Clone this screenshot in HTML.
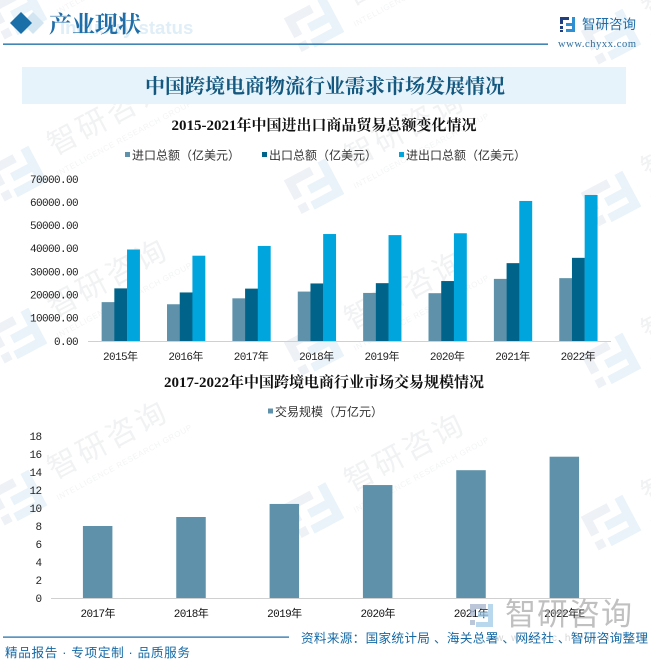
<!DOCTYPE html>
<html lang="zh">
<head>
<meta charset="utf-8">
<title>中国跨境电商物流行业需求市场发展情况</title>
<style>
html,body{margin:0;padding:0;background:#fff;}
body{width:651px;height:662px;overflow:hidden;position:relative;}
svg{display:block;position:absolute;left:0;top:0;overflow:hidden;}
.serif{font-family:"Liberation Serif","Noto Serif CJK SC",serif;}
.sans{font-family:"Liberation Sans","Noto Sans CJK SC",sans-serif;}
.mono{font-family:"Liberation Mono","Noto Sans CJK SC",monospace;}
</style>
</head>
<body>
<svg id="root" width="651" height="662" viewBox="0 0 651 662" xmlns="http://www.w3.org/2000/svg">
  <rect width="651" height="662" fill="#ffffff"/>
  <g id="watermarks"></g>

  <g>
    <polygon points="33,12 44,23 33,34 22,23" fill="#d3e5f1"/>
    <polygon points="21,12 32,23 21,34 10,23" fill="#1a6fa8"/>
    <text x="60" y="34" class="sans" font-size="18.6" font-weight="700" fill="#e0eef7">Industry status</text>
    <text x="49" y="32" class="serif" font-size="23" font-weight="700" fill="#1f6ea8">产业现状</text>
    <rect x="3" y="43.5" width="545" height="1.3" fill="#1469a5"/>
    <g>
      <path d="M560 17h9v3h-6v4h-3zM560 26h3v3h-3zM560 30h3v2h-3z" fill="#1f3f7f"/>
      <path d="M572 17h3v15h-9v-3h6v-3h-6v-3h6z" fill="#2f8fd0"/>
    </g>
    <text x="582" y="29" class="sans" font-size="13.5" fill="#1f6ea8">智研咨询</text>
    <text x="558" y="47" class="serif" font-size="10.5" fill="#2f6f9f" textLength="78">www.chyxx.com</text>
  </g>

  <rect x="22" y="67" width="604" height="37" fill="#e6f3fb"/>
  <text x="325" y="93" text-anchor="middle" class="serif" font-size="20" font-weight="700" fill="#14587f">中国跨境电商物流行业需求市场发展情况</text>

  <text x="324" y="130" text-anchor="middle" class="serif" font-size="15" font-weight="700" fill="#111">2015-2021年中国进出口商品贸易总额变化情况</text>
  <g id="trade-legend"></g>
  <g id="trade-chart"></g>

  <text x="324" y="387" text-anchor="middle" class="serif" font-size="15" font-weight="700" fill="#111">2017-2022年中国跨境电商行业市场交易规模情况</text>
  <g id="market-legend"></g>
  <g id="market-chart"></g>

  <g id="corner-watermark" opacity="0.7">
    <path d="M470 604h16v5h-11v7h-5zM470 620h5v5h-5z" fill="#9fb0c8"/>
    <path d="M488 604h5v23h-17v-5h12v-5h-10v-5h10z" fill="#9cc8e8"/>
    <text x="505" y="625" class="sans" font-size="31" letter-spacing="1" fill="#a6a6a6">智研咨询</text>
    <text x="496" y="641" class="sans" font-size="10" letter-spacing="8" fill="#c4c4c4">www.chyxx.com</text>
  </g>

  <g>
    <rect x="3" y="636.5" width="286" height="1.2" fill="#1469a5"/>
    <text x="301" y="642.5" class="sans" font-size="12.6" fill="#1469a5" textLength="347">资料来源：国家统计局 、海关总署 、网经社 、智研咨询整理</text>
    <text x="5" y="657" class="sans" font-size="12.6" fill="#1469a5" textLength="185">精品报告 · 专项定制 · 品质服务</text>
  </g>
</svg>

<script>
var NS = 'http://www.w3.org/2000/svg';

var tradeYears = ['2015年','2016年','2017年','2018年','2019年','2020年','2021年','2022年'];
var tradeImports = [16796,15879,18438,21357,20771,20660,26844,27160];
var tradeExports = [22735,20976,22633,24867,24990,25906,33640,35936];
var tradeTotals = [39531,36856,41071,46224,45761,46559,60514,63096];
var tradeTicks = [0,10000,20000,30000,40000,50000,60000,70000];
var tradeLegendLabels = ['进口总额（亿美元）','出口总额（亿美元）','进出口总额（亿美元）'];

var marketYears = ['2017年','2018年','2019年','2020年','2021年','2022年E'];
var marketValues = [8.0,9.0,10.45,12.55,14.2,15.7];
var marketTicks = [0,2,4,6,8,10,12,14,16,18];
var marketLegendLabels = ['交易规模（万亿元）'];

var seriesColors = ['#5f92aa','#006389','#00a5de'];

function make(tag, attrs, parent) {
  var el = document.createElementNS(NS, tag);
  for (var k in attrs) { el.setAttribute(k, attrs[k]); }
  parent.appendChild(el);
  return el;
}

/* axis functions */
function trackY(v, maxV, bottom, height) { return bottom - v / maxV * height; }
function bandX(i, count, left, right) { return left + (right - left) * (i + 0.5) / count; }

/* ---------- trade chart ---------- */
var tradeGroup = document.getElementById('trade-chart');
var tL = 88, tR = 611, tB = 341, tH = 162, tMax = 70000, tBar = 12.7;
var tradeSeries = [tradeImports, tradeExports, tradeTotals];
var tradeSeriesNames = ['import', 'export', 'total'];

tradeTicks.forEach(function (t) {
  var label = make('text', {x: 78, y: trackY(t, tMax, tB, tH) + 3.8, 'text-anchor': 'end', 'font-size': 11, 'letter-spacing': -0.6, fill: '#222', 'class': 'mono'}, tradeGroup);
  
  
  label.textContent = t.toFixed(2);
});
tradeYears.forEach(function (year, i) {
  var cx = bandX(i, tradeYears.length, tL, tR);
  tradeSeries.forEach(function (vals, s) {
    var y = trackY(vals[i], tMax, tB, tH);
    var bar = make('rect', {x: cx + (s - 1.5) * tBar, y: y, width: tBar + 0.2, height: tB - y, fill: seriesColors[s]}, tradeGroup);
    
    
  });
  var label = make('text', {x: cx - 0.5, y: tB + 19, 'text-anchor': 'middle', 'font-size': 11, 'letter-spacing': -0.6, fill: '#222', 'class': 'mono'}, tradeGroup);
  
  
  label.textContent = year;
});
var tradeAxis = make('rect', {x: tL, y: tB, width: tR - tL, height: 1, fill: '#d0d0d0'}, tradeGroup);



/* ---------- trade legend ---------- */
var tradeLegend = document.getElementById('trade-legend');
var tradeLegendX = [125, 262, 399];
tradeLegendLabels.forEach(function (txt, i) {
  var sw = make('rect', {x: tradeLegendX[i], y: 152, width: 5, height: 5, fill: seriesColors[i]}, tradeLegend);
  
  
  var label = make('text', {x: tradeLegendX[i] + 7, y: 159.5, 'font-size': 12, fill: '#333', 'class': 'sans'}, tradeLegend);
  
  
  label.textContent = txt;
});

/* ---------- market chart ---------- */
var marketGroup = document.getElementById('market-chart');
var mL = 51, mR = 611, mB = 598, mH = 162, mMax = 18, mBar = 29.5;

marketTicks.forEach(function (t) {
  var label = make('text', {x: 41.5, y: trackY(t, mMax, mB, mH) + 3.8, 'text-anchor': 'end', 'font-size': 11, 'letter-spacing': -0.6, fill: '#222', 'class': 'mono'}, marketGroup);
  
  
  label.textContent = t;
});
marketYears.forEach(function (year, i) {
  var cx = bandX(i, marketYears.length, mL, mR);
  var y = trackY(marketValues[i], mMax, mB, mH);
  var bar = make('rect', {x: cx - mBar / 2, y: y, width: mBar, height: mB - y, fill: seriesColors[0]}, marketGroup);
  
  
  var label = make('text', {x: cx, y: mB + 19, 'text-anchor': 'middle', 'font-size': 11, 'letter-spacing': -0.6, fill: '#111', 'class': 'mono'}, marketGroup);
  
  
  label.textContent = year;
});
var marketAxis = make('rect', {x: mL, y: mB, width: mR - mL, height: 1, fill: '#d0d0d0'}, marketGroup);



/* ---------- market legend ---------- */
var marketLegend = document.getElementById('market-legend');
marketLegendLabels.forEach(function (txt, i) {
  var sw = make('rect', {x: 268, y: 408.5, width: 5, height: 5, fill: seriesColors[i]}, marketLegend);
  
  
  var label = make('text', {x: 275, y: 416, 'font-size': 12, fill: '#333', 'class': 'sans'}, marketLegend);
  
  
  label.textContent = txt;
});

/* ---------- background watermarks ---------- */
var wm = document.getElementById('watermarks');
for (var col = 0; col < 3; col++) {
  for (var row = -1; row < 4; row++) {
    var lx = 22 + col * 297;
    var ly = 172 + col * 12.5 + row * 162;
    /* keep every mark inside the frame: anything that would cross the bottom edge is left out */
    if (ly < 620) {
      var logo = make('g', {transform: 'translate(' + lx + ' ' + ly + ') rotate(-28) scale(1.12)'}, wm);
      
      
      make('path', {d: 'M-26 -18h26v8h-18v12h-8zM-26 8h8v8h-8z', fill: '#eef1f5'}, logo);
      make('path', {d: 'M8 -18h8v36h-30v-8h22v-6h-18v-8h18z', fill: '#e9f3f9'}, logo);
    }
    if (ly - 56 < 600) {
      var tg = make('g', {transform: 'translate(' + (lx + 86) + ' ' + (ly - 56) + ') rotate(-28)'}, wm);
      
      
      var cn = make('text', {x: 0, y: 10, 'text-anchor': 'middle', 'font-size': 30, 'letter-spacing': 3, fill: '#f1f2f3', 'class': 'sans'}, tg);
      
      
      cn.textContent = '智研咨询';
      var en = make('text', {x: 4, y: 30, 'text-anchor': 'middle', 'font-size': 8, 'letter-spacing': 0.6, fill: '#f3f4f5', 'class': 'sans'}, tg);
      
      
      en.textContent = 'INTELLIGENCE RESEARCH GROUP';
    }
  }
}
</script>
</body>
</html>
